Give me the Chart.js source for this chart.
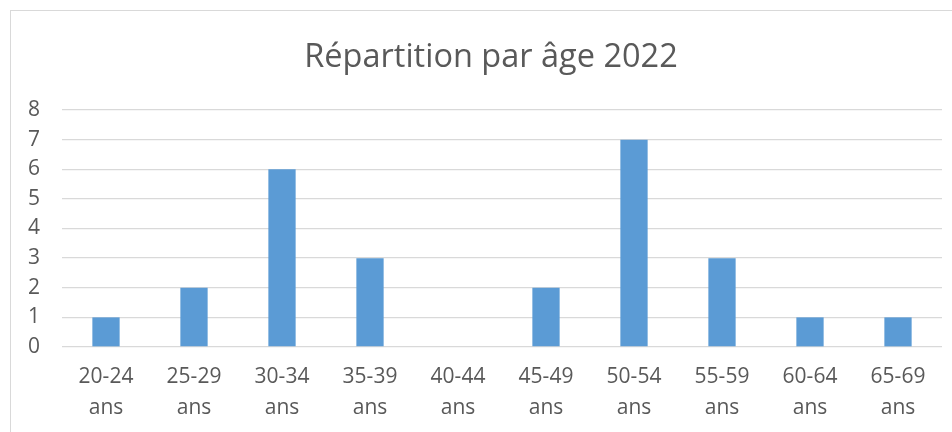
<!DOCTYPE html>
<html>
<head>
<meta charset="utf-8">
<script src="https://cdn.jsdelivr.net/npm/chart.js@4/dist/chart.umd.min.js"></script>
<style>
  html, body { margin: 0; padding: 0; background: #fff; overflow: hidden; }
  body { width: 952px; height: 432px; position: relative; }
  #frame {
    position: absolute; left: 10px; top: 10px;
    width: 1000px; height: 500px;
    border-left: 1px solid #d9d9d9; border-top: 1px solid #d9d9d9;
  }
  #wrap { position: absolute; left: 11px; top: 11px; width: 960px; height: 421px; }
</style>
</head>
<body>
<div id="frame"></div>
<div id="wrap"><canvas id="chart"></canvas></div>
<script>
// age brackets and head counts
const categories = ["20-24", "25-29", "30-34", "35-39", "40-44", "45-49", "50-54", "55-59", "60-64", "65-69"];
const counts = [1, 2, 6, 3, 0, 2, 7, 3, 1, 1];
const yTicks = [0, 1, 2, 3, 4, 5, 6, 7, 8];

const TEXT = "#595959";
const GRID = "#d9d9d9";
const FONT = "'Open Sans', 'Liberation Sans', sans-serif";

const labels = categories.map((c) => [c, "ans"]);

// title spans the whole canvas, not just up to the right padding
const wideTitle = {
  id: "wideTitle",
  afterLayout(chart) {
    if (chart.titleBlock) chart.titleBlock.right = chart.width;
  },
};

new Chart(document.getElementById("chart"), {
  type: "bar",
  data: {
    labels,
    datasets: [{
      data: counts,
      backgroundColor: "#5b9bd5",
      barPercentage: 0.31,
      categoryPercentage: 1,
    }],
  },
  plugins: [wideTitle],
  options: {
    responsive: true,
    maintainAspectRatio: false,
    animation: false,
    layout: { padding: { left: 0, right: 29, top: 0, bottom: 0 } },
    plugins: {
      legend: { display: false },
      tooltip: { enabled: false },
      title: {
        display: true,
        text: "Répartition par âge 2022",
        color: TEXT,
        font: { family: FONT, size: 32.5, weight: "normal", lineHeight: 1.2 },
        padding: { top: 27, bottom: 33 },
      },
    },
    scales: {
      x: {
        afterFit: (scale) => { scale.height = 85; },
        grid: { display: false, drawTicks: false },
        border: { display: false },
        ticks: {
          color: TEXT,
          padding: 15,
          maxRotation: 0,
          autoSkip: false,
          font: { family: FONT, size: 21, lineHeight: 1.45 },
        },
      },
      y: {
        min: 0,
        max: yTicks[yTicks.length - 1],
        afterBuildTicks: (scale) => { scale.ticks = yTicks.map((v) => ({ value: v })); },
        afterFit: (scale) => { scale.width = 51; },
        grid: { color: GRID, lineWidth: 1.3, drawTicks: false },
        border: { display: false },
        ticks: {
          color: TEXT,
          padding: 22,
          font: { family: FONT, size: 21, lineHeight: 1.2 },
        },
      },
    },
  },
});
</script>
</body>
</html>
